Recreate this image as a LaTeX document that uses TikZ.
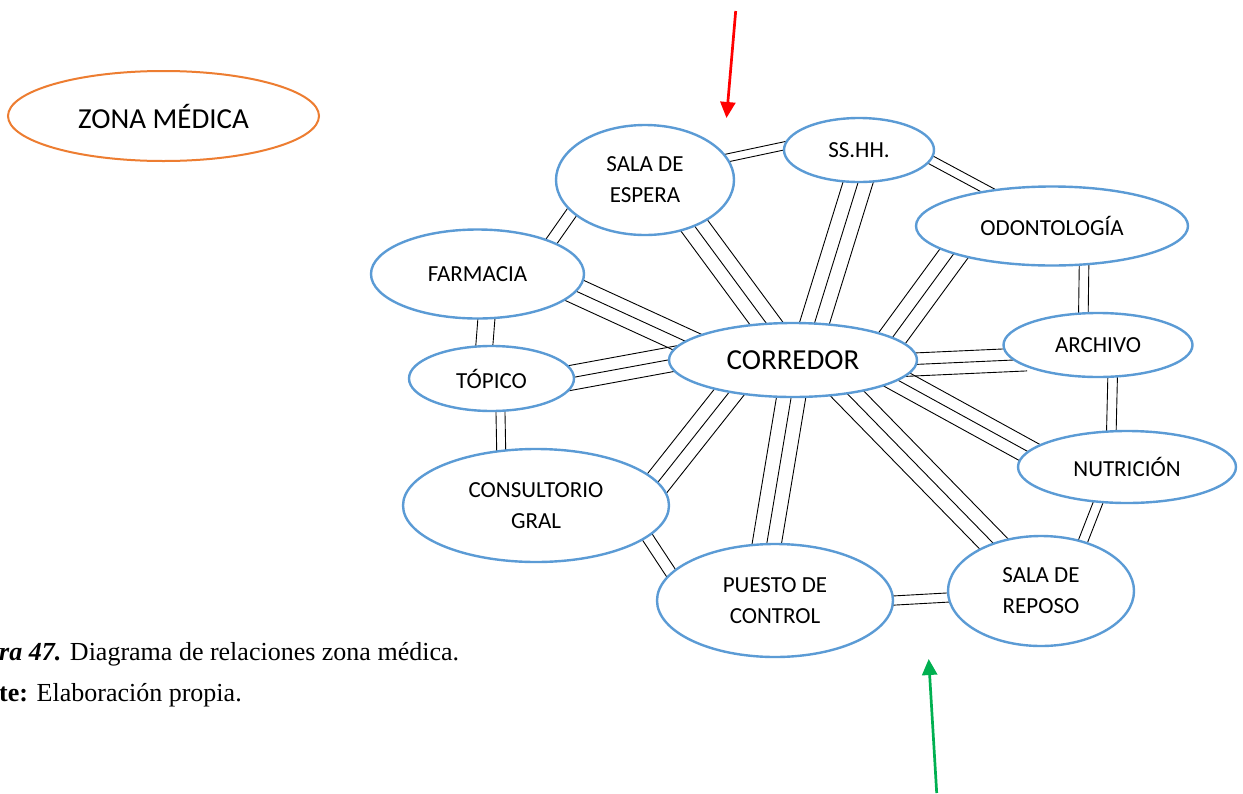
\documentclass[tikz,border=0pt]{standalone}
\usepackage{fontspec}
\usetikzlibrary{shapes.geometric,calc,arrows.meta,backgrounds}
\newfontfamily\labfont{Carlito}
\newfontfamily\capfont{Liberation Serif}
\definecolor{roomblue}{RGB}{91,155,213}
\definecolor{zoneorange}{RGB}{237,125,49}
\definecolor{arrowgreen}{RGB}{0,176,80}
\definecolor{arrowred}{RGB}{255,0,0}
\tikzset{
  room/.style={ellipse, draw=roomblue, line width=2.4pt, fill=white, inner sep=0pt,
    align=center, text=black, font=\labfont\fontsize{23}{31}\selectfont},
  zone/.style={ellipse, draw=zoneorange, line width=2pt, fill=white, inner sep=0pt,
    text=black, font=\labfont\fontsize{29}{35}\selectfont},
  link/.style={black, line width=0.9pt},
  pointer/.style={line width=2.7pt, -{Triangle[width=15pt,length=16pt]}},
  caption/.style={anchor=base west, inner sep=0pt, font=\capfont\fontsize{26}{30}\selectfont},
}
\newcommand\bund[5]{%
  \path (#1.#2) coordinate (bA) (#3.#4) coordinate (bB);
  \path ($(bA)!-14pt!(bB)$) coordinate (eA) ($(bB)!-14pt!(bA)$) coordinate (eB);
  \foreach \dd in {#5} {\draw[link] ($(eA)!\dd pt!90:(eB)$) -- ($(eB)!\dd pt!-90:(eA)$);}%
}
\begin{document}
\begin{tikzpicture}[x=1pt,y=-1pt]
\useasboundingbox (0,0) rectangle (1243,793);

% rooms
\node[zone, minimum width=311pt, minimum height=90pt] (Z) at (163.5,116) {ZONA MÉDICA};
\node[room, minimum width=178pt, minimum height=110pt] (S) at (645,180) {SALA DE\\ESPERA};
\node[room, minimum width=150pt, minimum height=64pt] (H) at (859,150) {SS.HH.};
\node[room, minimum width=272pt, minimum height=79pt] (O) at (1052,226) {ODONTOLOGÍA};
\node[room, minimum width=213pt, minimum height=89pt] (F) at (477.5,274) {FARMACIA};
\node[room, minimum width=248pt, minimum height=74pt, font=\labfont\fontsize{29}{35}\selectfont] (C) at (793,360) {CORREDOR};
\node[room, minimum width=189pt, minimum height=64pt] (A) at (1098,345) {ARCHIVO};
\node[room, minimum width=165pt, minimum height=65pt] (T) at (491.5,378.5) {TÓPICO};
\node[room, minimum width=218pt, minimum height=72pt] (N) at (1127,467) {NUTRICIÓN};
\node[room, minimum width=266pt, minimum height=113pt] (K) at (536,505.5) {CONSULTORIO\\GRAL};
\node[room, minimum width=236pt, minimum height=113pt] (P) at (775,600.5) {PUESTO DE\\CONTROL};
\node[room, minimum width=186pt, minimum height=110pt] (R) at (1041,591) {SALA DE\\REPOSO};

\begin{pgfonlayer}{background}
\fill[white] (0,0) rectangle (1243,793);
\bund{S}{15.7}{H}{177.3}{-4,4}
\bund{S}{204.8}{F}{24}{-5.8,5.8}
\bund{S}{-43.8}{C}{126.1}{-14,0,14}
\bund{H}{-92.9}{C}{60}{-14.5,0,14.5}
\bund{H}{-8.5}{O}{151.4}{-4.4,4.4}
\bund{O}{-164.8}{C}{13.9}{-14,0,14}
\bund{O}{-51.5}{A}{114.4}{-4.8,4.8}
\bund{F}{-10}{C}{170}{-13,0,13}
\bund{F}{-79.5}{T}{102.9}{-8.5,8.5}
\bund{T}{1.2}{C}{180}{-12.4,0,12.4}
\bund{T}{-75}{K}{122.1}{-4.5,4.5}
\bund{A}{-170.9}{C}{-2}{-11.5,0,11.5}
\bund{A}{-66.4}{N}{113.2}{-4.8,4.8}
\bund{N}{171.7}{C}{-11.5}{-12,0,12}
\bund{N}{-129.5}{R}{50}{-4.7,4.7}
\bund{C}{-32.6}{R}{135.7}{-13.7,0,13.7}
\bund{C}{-93.6}{P}{98.5}{-14.5,0,14.5}
\bund{C}{-153.8}{K}{11.7}{-13.5,0,13.5}
\bund{K}{-16.7}{P}{165.3}{-5.7,5.7}
\bund{P}{0.4}{R}{-176.8}{-4.6,4.6}
\end{pgfonlayer}

% arrows
\coordinate (redtail) at (735.7,11);
\coordinate (redtip) at (726.5,118);
\coordinate (greentail) at (936.7,793);
\coordinate (greentip) at (928.7,659);
\draw[pointer, draw=arrowred, fill=arrowred] (redtail) -- (redtip);
\draw[pointer, draw=arrowgreen, fill=arrowgreen] (greentail) -- (greentip);

% caption
\node[caption] (cap1) at (-1,660) {{\bfseries\itshape ra 47.} Diagrama de relaciones zona médica.};
\node[caption] (cap2) at (-1,701) {{\bfseries te:} Elaboración propia.};
\end{tikzpicture}
\end{document}
